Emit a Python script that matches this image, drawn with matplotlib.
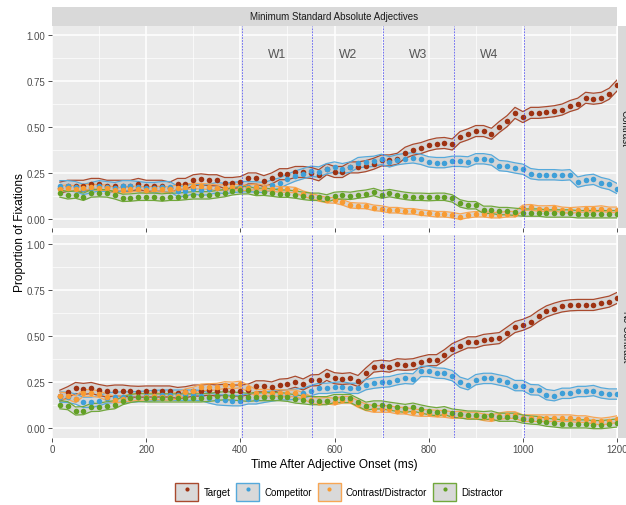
import numpy as np
import matplotlib
matplotlib.use("Agg")
import matplotlib.pyplot as plt
from matplotlib.patches import Patch
from matplotlib.lines import Line2D
from matplotlib.legend_handler import HandlerTuple

plt.rcParams['font.family'] = ['Liberation Sans', 'DejaVu Sans']

# time bins (ms after adjective onset), one point every 16.67 ms
time_ms = np.arange(1, 73) * 50 / 3

series = ['Target', 'Competitor', 'Contrast/Distractor', 'Distractor']
colors = ['#9E3212', '#3E9FD8', '#F89B32', '#62A024']
line_colors = ['#A94A2E', '#55A9DB', '#F7A655', '#72A83C']

# Contrast condition
contrast_target = [
    0.17, 0.18, 0.18, 0.18, 0.19, 0.19, 0.18, 0.18, 0.18, 0.18, 0.19, 0.18,
    0.18, 0.18, 0.17, 0.19, 0.19, 0.21, 0.215, 0.21, 0.21, 0.195, 0.195, 0.20,
    0.22, 0.22, 0.205, 0.22, 0.243, 0.243, 0.255, 0.255, 0.25, 0.237, 0.27, 0.255,
    0.255, 0.28, 0.28, 0.287, 0.30, 0.318, 0.318, 0.327, 0.36, 0.376, 0.385, 0.40,
    0.41, 0.413, 0.405, 0.445, 0.46, 0.478, 0.478, 0.463, 0.50, 0.532, 0.577, 0.554,
    0.577, 0.577, 0.581, 0.586, 0.595, 0.614, 0.627, 0.659, 0.654, 0.659, 0.681, 0.726]
contrast_competitor = [
    0.18, 0.18, 0.175, 0.16, 0.17, 0.18, 0.175, 0.17, 0.18, 0.18, 0.175, 0.17,
    0.17, 0.175, 0.175, 0.15, 0.15, 0.165, 0.155, 0.16, 0.17, 0.165, 0.17, 0.175,
    0.175, 0.174, 0.17, 0.183, 0.195, 0.215, 0.233, 0.246, 0.259, 0.255, 0.273, 0.282,
    0.273, 0.282, 0.306, 0.31, 0.313, 0.324, 0.31, 0.322, 0.328, 0.332, 0.324, 0.31,
    0.306, 0.306, 0.313, 0.313, 0.31, 0.327, 0.327, 0.32, 0.29, 0.286, 0.277, 0.27,
    0.246, 0.24, 0.24, 0.24, 0.237, 0.24, 0.2, 0.21, 0.215, 0.197, 0.187, 0.165]
contrast_contrast = [
    0.165, 0.17, 0.165, 0.17, 0.175, 0.17, 0.17, 0.155, 0.155, 0.16, 0.165, 0.155,
    0.165, 0.16, 0.16, 0.17, 0.175, 0.178, 0.178, 0.175, 0.17, 0.17, 0.175, 0.17,
    0.168, 0.175, 0.17, 0.165, 0.16, 0.16, 0.156, 0.137, 0.125, 0.111, 0.102, 0.10,
    0.09, 0.074, 0.071, 0.07, 0.06, 0.056, 0.047, 0.047, 0.041, 0.041, 0.034, 0.03,
    0.025, 0.025, 0.02, 0.012, 0.02, 0.025, 0.025, 0.02, 0.02, 0.025, 0.025, 0.06,
    0.063, 0.056, 0.056, 0.058, 0.049, 0.046, 0.049, 0.052, 0.052, 0.056, 0.049, 0.049]
contrast_distractor = [
    0.138, 0.128, 0.132, 0.12, 0.138, 0.14, 0.138, 0.128, 0.114, 0.116, 0.12, 0.12,
    0.12, 0.116, 0.12, 0.12, 0.124, 0.128, 0.128, 0.128, 0.134, 0.14, 0.15, 0.155,
    0.156, 0.146, 0.147, 0.143, 0.137, 0.137, 0.132, 0.125, 0.12, 0.12, 0.111, 0.125,
    0.128, 0.125, 0.132, 0.137, 0.146, 0.132, 0.14, 0.132, 0.125, 0.12, 0.12, 0.118,
    0.12, 0.12, 0.111, 0.084, 0.074, 0.074, 0.049, 0.049, 0.042, 0.042, 0.038, 0.034,
    0.034, 0.034, 0.029, 0.029, 0.029, 0.029, 0.025, 0.025, 0.025, 0.025, 0.025, 0.025]

# No-Contrast condition
nocontrast_target = [
    0.177, 0.196, 0.219, 0.214, 0.219, 0.208, 0.2, 0.205, 0.205, 0.2, 0.198, 0.2,
    0.2, 0.2, 0.2, 0.192, 0.196, 0.205, 0.205, 0.21, 0.205, 0.21, 0.205, 0.205,
    0.21, 0.228, 0.228, 0.222, 0.237, 0.24, 0.253, 0.238, 0.26, 0.262, 0.29, 0.272,
    0.268, 0.272, 0.257, 0.298, 0.335, 0.34, 0.335, 0.348, 0.345, 0.348, 0.36, 0.37,
    0.37, 0.397, 0.43, 0.449, 0.467, 0.467, 0.48, 0.485, 0.49, 0.52, 0.55, 0.562,
    0.58, 0.61, 0.635, 0.65, 0.662, 0.668, 0.67, 0.67, 0.67, 0.679, 0.688, 0.708]
nocontrast_competitor = [
    0.17, 0.168, 0.159, 0.141, 0.141, 0.15, 0.165, 0.168, 0.17, 0.17, 0.172, 0.175,
    0.178, 0.18, 0.18, 0.18, 0.18, 0.18, 0.178, 0.165, 0.155, 0.152, 0.15, 0.15,
    0.16, 0.16, 0.168, 0.175, 0.182, 0.182, 0.185, 0.19, 0.205, 0.217, 0.217, 0.222,
    0.225, 0.217, 0.217, 0.237, 0.245, 0.25, 0.253, 0.264, 0.271, 0.268, 0.309, 0.309,
    0.3, 0.298, 0.286, 0.25, 0.237, 0.264, 0.271, 0.271, 0.262, 0.253, 0.232, 0.232,
    0.21, 0.208, 0.183, 0.177, 0.19, 0.19, 0.2, 0.2, 0.205, 0.192, 0.186, 0.186]
nocontrast_contrast = [
    0.178, 0.175, 0.158, 0.192, 0.192, 0.186, 0.168, 0.155, 0.16, 0.165, 0.17, 0.172,
    0.175, 0.172, 0.17, 0.177, 0.196, 0.205, 0.222, 0.224, 0.226, 0.235, 0.233, 0.238,
    0.217, 0.192, 0.195, 0.192, 0.192, 0.19, 0.19, 0.177, 0.155, 0.145, 0.15, 0.145,
    0.155, 0.155, 0.132, 0.114, 0.105, 0.105, 0.105, 0.096, 0.096, 0.087, 0.083, 0.083,
    0.08, 0.078, 0.072, 0.074, 0.069, 0.069, 0.06, 0.055, 0.066, 0.072, 0.072, 0.055,
    0.055, 0.055, 0.055, 0.055, 0.055, 0.055, 0.05, 0.05, 0.042, 0.037, 0.042, 0.05]
nocontrast_distractor = [
    0.128, 0.123, 0.094, 0.096, 0.113, 0.114, 0.123, 0.128, 0.15, 0.162, 0.168, 0.165,
    0.165, 0.165, 0.165, 0.165, 0.165, 0.165, 0.165, 0.168, 0.173, 0.177, 0.175, 0.172,
    0.168, 0.172, 0.172, 0.172, 0.172, 0.168, 0.159, 0.155, 0.15, 0.15, 0.15, 0.162,
    0.162, 0.162, 0.141, 0.12, 0.127, 0.127, 0.12, 0.114, 0.108, 0.115, 0.105, 0.096,
    0.09, 0.096, 0.083, 0.078, 0.072, 0.072, 0.069, 0.072, 0.06, 0.06, 0.06, 0.05,
    0.045, 0.042, 0.033, 0.029, 0.024, 0.024, 0.024, 0.024, 0.02, 0.02, 0.024, 0.029]

# approximate ribbon half-widths (standard error) per series
contrast_se = [0.03, 0.028, 0.015, 0.02]
nocontrast_se = [0.03, 0.028, 0.018, 0.022]

window_bounds = [403, 553, 703, 853, 1003]
window_labels = ['W1', 'W2', 'W3', 'W4']
window_label_x = [478, 628, 778, 928]

panels = [
    ('Contrast', [contrast_target, contrast_competitor, contrast_contrast, contrast_distractor], contrast_se),
    ('No-Contrast', [nocontrast_target, nocontrast_competitor, nocontrast_contrast, nocontrast_distractor], nocontrast_se),
]

W, H = 626, 506
fig = plt.figure(figsize=(W / 100, H / 100), dpi=100)


def box(x0, y0, x1, y1):
    return [x0 / W, 1 - y1 / H, (x1 - x0) / W, (y1 - y0) / H]


panel_boxes = [(52, 27, 617, 229), (52, 236, 617, 438.5)]
axes = []
for (name, values, se), pb in zip(panels, panel_boxes):
    ax = fig.add_axes(box(*pb))
    axes.append(ax)
    ax.set_facecolor('#EBEBEB')
    for s in ax.spines.values():
        s.set_visible(False)
    ax.set_xlim(0, 1200)
    ax.set_ylim(-0.05, 1.05)
    ax.set_xticks(np.arange(0, 1201, 200))
    ax.set_xticks(np.arange(100, 1200, 200), minor=True)
    ax.set_yticks([0, 0.25, 0.5, 0.75, 1.0])
    ax.set_yticks([0.125, 0.375, 0.625, 0.875], minor=True)
    ax.set_yticklabels(['0.00', '0.25', '0.50', '0.75', '1.00'])
    ax.grid(which='major', color='white', lw=1.1)
    ax.grid(which='minor', color='white', lw=0.5)
    ax.set_axisbelow(True)
    ax.tick_params(which='major', labelsize=7, labelcolor='#4D4D4D', color='#333333',
                   length=3, width=0.6, pad=2)
    ax.tick_params(which='minor', length=0)

    for vals, err, c, lc in zip(values, se, colors, line_colors):
        v = np.array(vals)
        ax.fill_between(time_ms, v - err, v + err, color='#BDBDBD', alpha=0.45, lw=0, zorder=2)
        ax.plot(time_ms, v - err, color=lc, lw=0.9, zorder=3)
        ax.plot(time_ms, v + err, color=lc, lw=0.9, zorder=3)
        ax.plot(time_ms, v, 'o', color=c, ms=4.0, mec='none', zorder=4)

    for b in window_bounds:
        ax.axvline(b, color='#3A3AF5', lw=0.6, alpha=0.8, dashes=(2, 1.5), zorder=5)

    # right facet strip (cut off by the image edge, as in the original)
    sax = fig.add_axes(box(618, pb[1], 636, pb[3]))
    sax.set_facecolor('#D9D9D9')
    sax.set_xticks([])
    sax.set_yticks([])
    for s in sax.spines.values():
        s.set_visible(False)
    fig.text(625 / W, 1 - (pb[1] + pb[3]) / 2 / H, name, rotation=-90, ha='center',
             va='center', fontsize=7, color='#1A1A1A')

axes[0].tick_params(labelbottom=False)
for lab, lx in zip(window_labels, window_label_x):
    axes[0].text(lx, 0.9, lab, ha='center', va='center', fontsize=8.7, color='#555555')

# top strip
tax = fig.add_axes(box(52, 8, 617, 27))
tax.set_facecolor('#D9D9D9')
tax.set_xticks([])
tax.set_yticks([])
for s in tax.spines.values():
    s.set_visible(False)
tax.text(0.5, 0.5, 'Minimum Standard Absolute Adjectives', ha='center', va='center',
         fontsize=7, color='#1A1A1A', transform=tax.transAxes)

fig.text(20 / W, 1 - 233 / H, 'Proportion of Fixations', rotation=90, ha='center',
         va='center', fontsize=8.6)
fig.text(334 / W, 1 - 465 / H, 'Time After Adjective Onset (ms)', ha='center',
         va='center', fontsize=8.6)

handles = [(Patch(facecolor='#D9D9D9', edgecolor=lc, lw=1.0),
            Line2D([], [], marker='o', color=c, ls='', ms=3, mec='none'))
           for c, lc in zip(colors, line_colors)]
fig.legend(handles, series, loc='center', bbox_to_anchor=(339 / W, 1 - 493 / H), ncol=4,
           frameon=False, fontsize=7, handlelength=2.4, handleheight=2.4,
           handletextpad=0.5, columnspacing=0.6, borderpad=0,
           handler_map={tuple: HandlerTuple(ndivide=1, pad=0)})

fig.savefig('out.png', dpi=100)
